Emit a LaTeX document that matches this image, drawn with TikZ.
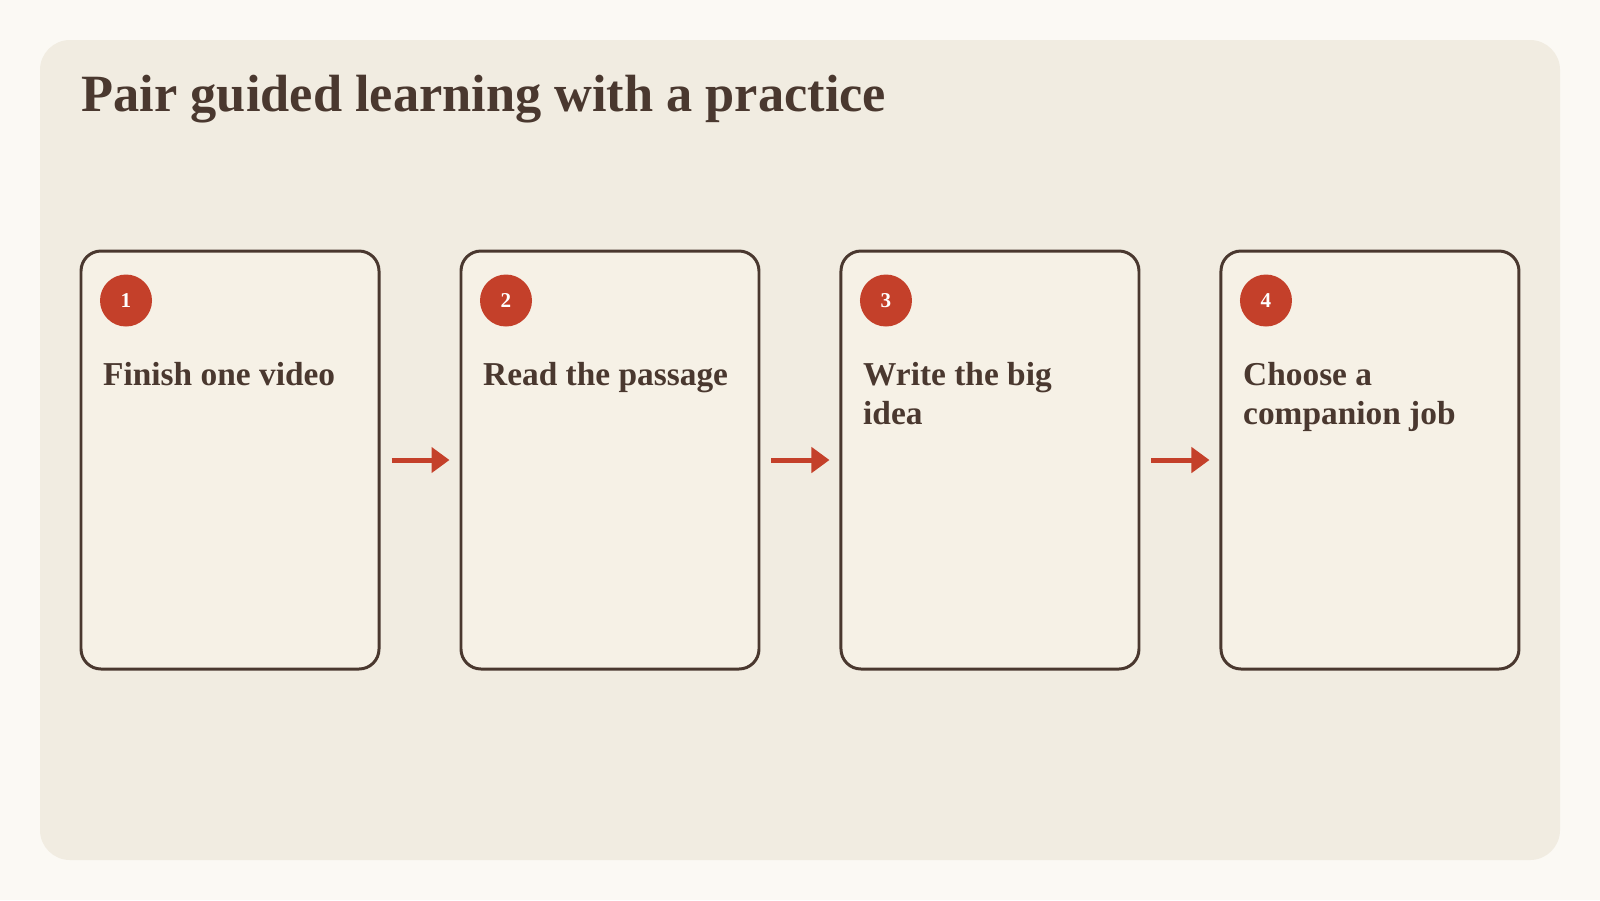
\documentclass[tikz,border=0pt]{standalone}
\usepackage{fontspec}
\setmainfont{Liberation Serif}
\usepackage{xcolor}
\usetikzlibrary{arrows.meta,positioning}
\definecolor{paper}{HTML}{FBF9F4}
\definecolor{panel}{HTML}{F1ECE1}
\definecolor{cardbg}{HTML}{F6F1E6}
\definecolor{ink}{HTML}{4A382F}
\definecolor{brick}{HTML}{C4402A}
\tikzstyle{card} = [draw=ink, line width=0.85pt, fill=cardbg, rounded corners=0.2cm, minimum width=2.98cm, minimum height=4.18cm, inner sep=0]
\tikzstyle{num} = [circle, fill=brick, text=white, minimum size=0.52cm, inner sep=0, font=\bfseries\fontsize{6}{7}\selectfont]
\tikzstyle{lbl} = [anchor=north west, align=left, inner sep=0, text=ink, font=\bfseries\fontsize{9.5}{11.1}\selectfont]
\tikzstyle{arr} = [-{Triangle[length=0.18cm,width=0.25cm]}, brick, line width=0.05cm, shorten <=0.11cm, shorten >=0.10cm]

\begin{document}
\begin{tikzpicture}
  \fill[paper] (0,0) rectangle (16,-9);
  \fill[panel, rounded corners=0.3cm] (0.4,-0.4) rectangle (15.6,-8.6);
  \node[anchor=base west, inner sep=0, text=ink, font=\bfseries\fontsize{14.9}{18}\selectfont] (title) at (0.81,-1.11) {Pair guided learning with a practice};

  \node[card] (c1) at (2.30,-4.60) {};
  \node[card, right=0.79cm of c1] (c2) {};
  \node[card, right=0.79cm of c2] (c3) {};
  \node[card, right=0.79cm of c3] (c4) {};

  \node[num] (n1) at ([xshift=0.465cm, yshift=-0.51cm]c1.north west) {1};
  \node[num] (n2) at ([xshift=0.465cm, yshift=-0.51cm]c2.north west) {2};
  \node[num] (n3) at ([xshift=0.465cm, yshift=-0.51cm]c3.north west) {3};
  \node[num] (n4) at ([xshift=0.465cm, yshift=-0.51cm]c4.north west) {4};

  \node[lbl] (t1) at ([xshift=0.23cm, yshift=-1.125cm]c1.north west) {Finish one video};
  \node[lbl] (t2) at ([xshift=0.23cm, yshift=-1.125cm]c2.north west) {Read the passage};
  \node[lbl] (t3) at ([xshift=0.23cm, yshift=-1.125cm]c3.north west) {Write the big\\idea};
  \node[lbl] (t4) at ([xshift=0.23cm, yshift=-1.125cm]c4.north west) {Choose a\\companion job};

  \draw[arr] (c1) -- (c2);
  \draw[arr] (c2) -- (c3);
  \draw[arr] (c3) -- (c4);
\end{tikzpicture}
\end{document}
